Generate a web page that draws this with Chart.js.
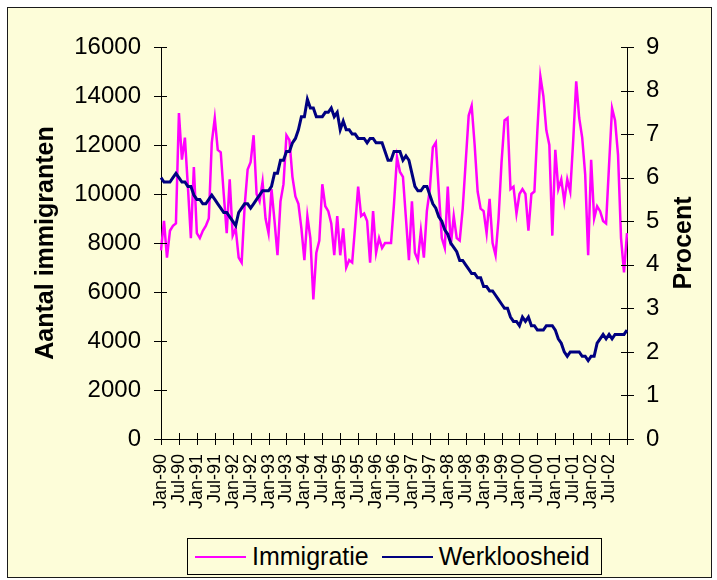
<!DOCTYPE html>
<html>
<head>
<meta charset="utf-8">
<script src="https://cdn.jsdelivr.net/npm/chart.js@4"></script>
<style>
    body { margin: 0; background: #fff; }
    #kader {
        position: absolute; left: 7px; top: 7px; width: 705px; height: 571px;
        box-sizing: border-box; border: 1px solid #1a1a1a; background: #fdfdd9;
    }
    #grafiek { position: absolute; left: 0; top: 0; }
    #legenda {
        position: absolute; left: 187px; top: 538px; width: 415px; height: 37px;
        box-sizing: border-box; border: 1px solid #000; background: #fdfdd9;
        font: 25px "Liberation Sans", Arial, sans-serif; color: #000;
        display: flex; align-items: center; padding-left: 7px;
    }
    #legenda .item { display: flex; align-items: center; margin-right: 13px; }
    #legenda .lijn { width: 51px; height: 2px; margin-right: 6px; }
</style>
</head>
<body>
<div id="kader"></div>
<canvas id="grafiek" width="717" height="580"></canvas>
<div id="legenda"></div>
<script>
const maanden = ['Jan', 'Feb', 'Mrt', 'Apr', 'Mei', 'Jun', 'Jul', 'Aug', 'Sep', 'Okt', 'Nov', 'Dec'];
const jaren = ['90', '91', '92', '93', '94', '95', '96', '97', '98', '99', '00', '01', '02', '03'];

// maandlabels Jan-90 t/m Jan-03
const categorieen = [];
jaren.forEach(j => maanden.forEach(m => {
    if (categorieen.length < 157) categorieen.push(m + '-' + j);
}));

// aantal immigranten per maand
const immigratie = [
    7700, 8900, 7400, 8500, 8700, 8800, 13300, 11400, 12300, 10300, 8200, 11100,
    8400, 8200, 8500, 8700, 9000, 12100, 13100, 11800, 11700, 10000, 8400, 10600,
    8300, 8600, 7400, 7200, 9500, 11000, 11300, 12400, 10000, 9700, 10500, 9000,
    8400, 10200, 8900, 7500, 9700, 10400, 12400, 12200, 10700, 9900, 9600, 8600,
    7300, 9100, 8200, 5700, 7600, 8100, 10400, 9500, 9300, 8800, 7500, 9100,
    7500, 8600, 7000, 7300, 7200, 8700, 10300, 9100, 9200, 8900, 7200, 9300,
    7600, 8200, 7800, 8000, 8000, 8000, 9600, 11500, 10900, 10700, 9000, 7300,
    9700, 7600, 7300, 8500, 7400, 9300, 10200, 11900, 12100, 10100, 8200, 7800,
    10300, 7900, 9100, 8200, 8100, 9400, 11300, 13200, 13600, 12000, 10100, 9400,
    9300, 8400, 9800, 8000, 7500, 9000, 11300, 13000, 13100, 10200, 10300, 9200,
    10000, 10200, 10000, 8500, 10000, 10100, 12600, 14800, 14000, 12600, 12000, 8300,
    11800, 10200, 10600, 9700, 10600, 10100, 12200, 14600, 13100, 12300, 10800, 7500,
    11400, 9000, 9500, 9300, 8900, 8800, 11200, 13500, 13000, 11600, 8200, 6800,
    8400
];

// werkloosheid in procent
const werkloosheid = [
    6.0, 5.9, 5.9, 5.9, 6.0, 6.1, 6.0, 5.9, 5.9, 5.8, 5.8, 5.6,
    5.5, 5.5, 5.4, 5.4, 5.5, 5.6, 5.5, 5.4, 5.3, 5.2, 5.2, 5.1,
    5.0, 4.9, 5.2, 5.3, 5.4, 5.4, 5.3, 5.4, 5.5, 5.6, 5.7, 5.7,
    5.7, 5.8, 6.1, 6.1, 6.4, 6.4, 6.6, 6.6, 6.8, 6.9, 7.1, 7.4,
    7.4, 7.8, 7.6, 7.6, 7.4, 7.4, 7.4, 7.5, 7.5, 7.6, 7.4, 7.5,
    7.1, 7.3, 7.1, 7.1, 7.0, 7.0, 6.9, 6.9, 6.9, 6.8, 6.9, 6.9,
    6.8, 6.8, 6.8, 6.6, 6.4, 6.4, 6.6, 6.6, 6.6, 6.4, 6.5, 6.4,
    6.1, 5.8, 5.7, 5.7, 5.8, 5.8, 5.6, 5.4, 5.3, 5.1, 5.0, 4.8,
    4.7, 4.5, 4.4, 4.3, 4.1, 4.1, 4.0, 3.9, 3.8, 3.8, 3.7, 3.7,
    3.5, 3.5, 3.4, 3.4, 3.3, 3.2, 3.1, 3.0, 3.0, 2.8, 2.7, 2.7,
    2.6, 2.8, 2.7, 2.8, 2.6, 2.6, 2.5, 2.5, 2.5, 2.6, 2.6, 2.6,
    2.5, 2.3, 2.2, 2.0, 1.9, 2.0, 2.0, 2.0, 2.0, 1.9, 1.9, 1.8,
    1.9, 1.9, 2.2, 2.3, 2.4, 2.3, 2.4, 2.3, 2.4, 2.4, 2.4, 2.4,
    2.5
];

const linksTicks = [0, 2000, 4000, 6000, 8000, 10000, 12000, 14000, 16000];
const rechtsTicks = [0, 1, 2, 3, 4, 5, 6, 7, 8, 9];
const linksTitel = 'Aantal immigranten';
const rechtsTitel = 'Procent';

const lettertype = '"Liberation Sans", Arial, sans-serif';
Chart.defaults.font.family = lettertype;
Chart.defaults.color = '#000';

// streepjes die de as kruisen, zoals in Excel
const kruisTicks = {
    id: 'kruisTicks',
    afterDraw(chart) {
        const ctx = chart.ctx;
        const { x, y, y1 } = chart.scales;
        ctx.save();
        ctx.strokeStyle = '#000';
        ctx.lineWidth = 1;
        ctx.beginPath();
        linksTicks.forEach(v => {
            const py = Math.round(y.getPixelForValue(v)) + 0.5;
            ctx.moveTo(y.right - 7, py); ctx.lineTo(y.right + 6, py);
        });
        rechtsTicks.forEach(v => {
            const py = Math.round(y1.getPixelForValue(v)) + 0.5;
            ctx.moveTo(y1.left - 6, py); ctx.lineTo(y1.left + 7, py);
        });
        for (let i = 0; i < categorieen.length; i += 6) {
            const px = Math.round(x.getPixelForValue(i)) + 0.5;
            ctx.moveTo(px, x.top - 6); ctx.lineTo(px, x.top + 6);
        }
        ctx.stroke();

        // astitels
        ctx.font = 'bold 25px ' + lettertype;
        ctx.fillStyle = '#000';
        ctx.textAlign = 'center';
        ctx.textBaseline = 'middle';
        const midden = (chart.chartArea.top + chart.chartArea.bottom) / 2;
        [[46, linksTitel], [684, rechtsTitel]].forEach(([tx, tekst]) => {
            ctx.save();
            ctx.translate(tx, midden);
            ctx.rotate(-Math.PI / 2);
            ctx.fillText(tekst, 0, 0);
            ctx.restore();
        });
        ctx.restore();
    }
};

const grafiek = new Chart(document.getElementById('grafiek'), {
    type: 'line',
    data: {
        labels: categorieen,
        datasets: [
            { label: 'Immigratie', data: immigratie, borderColor: '#ff00ff', borderWidth: 2.5,
              pointRadius: 0, yAxisID: 'y', order: 1 },
            { label: 'Werkloosheid', data: werkloosheid, borderColor: '#000080', borderWidth: 3,
              pointRadius: 0, yAxisID: 'y1', order: 0 }
        ]
    },
    options: {
        responsive: false,
        animation: false,
        layout: { padding: { top: 47, left: 0, right: 0, bottom: 0 } },
        plugins: { legend: { display: false }, tooltip: { enabled: false } },
        scales: {
            x: {
                offset: false,
                afterFit: s => { s.height = 141; },
                border: { color: '#000', width: 1 },
                grid: { drawOnChartArea: false, color: 'transparent', tickLength: 7 },
                ticks: {
                    autoSkip: false, maxRotation: 90, minRotation: 90, padding: 8,
                    font: { size: 18 },
                    callback: function (v, i) {
                        return (i % 6 === 0 && i <= 150) ? this.getLabelForValue(v) : null;
                    }
                }
            },
            y: {
                position: 'left', min: 0, max: 16000,
                afterFit: s => { s.width = 161; },
                afterBuildTicks: s => { s.ticks = linksTicks.map(v => ({ value: v })); },
                border: { color: '#000', width: 1 },
                grid: { drawOnChartArea: false, color: 'transparent', tickLength: 7 },
                ticks: { padding: 13, font: { size: 24 }, callback: v => String(v) }
            },
            y1: {
                position: 'right', min: 0, max: 9,
                afterFit: s => { s.width = 90; },
                afterBuildTicks: s => { s.ticks = rechtsTicks.map(v => ({ value: v })); },
                border: { color: '#000', width: 1 },
                grid: { drawOnChartArea: false, color: 'transparent', tickLength: 7 },
                ticks: { padding: 12, font: { size: 24 }, callback: v => String(v) }
            }
        }
    },
    plugins: [kruisTicks]
});

// legenda als gewone tekst onder de grafiek
document.getElementById('legenda').innerHTML = grafiek.data.datasets.map(d => `
    <div class="item"><div class="lijn" style="background:${d.borderColor}"></div>${d.label}</div>
`).join('');
</script>
</body>
</html>
